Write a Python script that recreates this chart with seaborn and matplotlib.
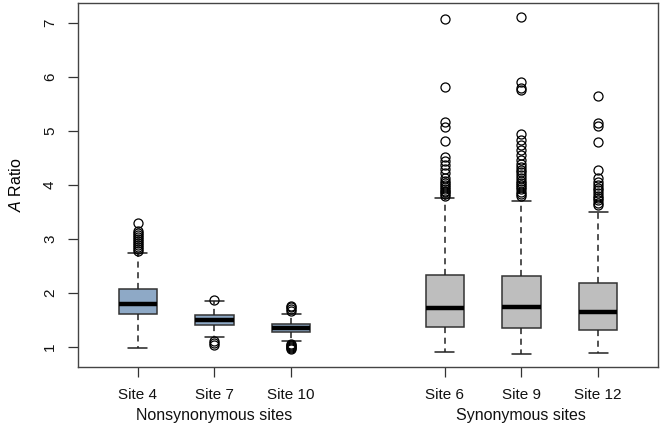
import numpy as np
import pandas as pd
import matplotlib.pyplot as plt
import seaborn as sns

# sites and where they sit on the axis (gap between the two groups)
sites = ['Site 4', 'Site 7', 'Site 10', 'Site 6', 'Site 9', 'Site 12']
groups = ['Nonsynonymous sites'] * 3 + ['Synonymous sites'] * 3
slots = [1, 2, 3, 5, 6, 7]

# box summaries
whisker_lo = [0.98, 1.18, 1.10, 0.90, 0.86, 0.88]
q1 = [1.61, 1.40, 1.28, 1.37, 1.35, 1.32]
median = [1.80, 1.49, 1.35, 1.72, 1.73, 1.64]
q3 = [2.07, 1.58, 1.42, 2.33, 2.31, 2.19]
whisker_hi = [2.74, 1.84, 1.61, 3.76, 3.71, 3.49]

# outliers
outliers_hi = [
    [2.78, 2.81, 2.85, 2.88, 2.92, 2.96, 3.00, 3.03, 3.07, 3.10, 3.15, 3.29],
    [1.87],
    [1.67, 1.70, 1.73, 1.75],
    [3.80, 3.83, 3.86, 3.89, 3.93, 3.96, 3.99, 4.03, 4.08, 4.12, 4.22, 4.30,
     4.36, 4.44, 4.52, 4.82, 5.07, 5.16, 5.82, 7.08],
    [3.79, 3.83, 3.87, 3.92, 3.96, 4.00, 4.04, 4.08, 4.13, 4.18, 4.23, 4.28,
     4.33, 4.39, 4.46, 4.56, 4.65, 4.74, 4.84, 4.95, 5.75, 5.80, 5.90, 7.12],
    [3.62, 3.67, 3.72, 3.76, 3.80, 3.85, 3.90, 3.95, 4.00, 4.05, 4.12, 4.28,
     4.79, 5.10, 5.14, 5.65],
]
outliers_lo = [
    [],
    [1.04, 1.07, 1.10],
    [0.95, 0.98, 1.00, 1.02, 1.04, 1.06],
    [], [], [],
]

# build a sample per site whose quartiles land exactly on the read values
rows = []
for i in range(len(sites)):
    lo = sorted(outliers_lo[i]) + [whisker_lo[i]]
    hi = [whisker_hi[i]] + sorted(outliers_hi[i])
    m = max(len(lo), len(hi))
    vals = (lo + [q1[i]] * (m - len(lo))
            + [q1[i]] * m + [median[i]] * m
            + [q3[i]] * (m - len(hi) + 1) + hi)
    for v in vals:
        rows.append((slots[i], groups[i], v))
df = pd.DataFrame(rows, columns=['slot', 'group', 'ratio'])

sns.set_style('white')
plt.rcParams['font.family'] = ['Liberation Sans', 'DejaVu Sans']
plt.rcParams['mathtext.fontset'] = 'custom'
plt.rcParams['mathtext.rm'] = 'Liberation Sans'
plt.rcParams['mathtext.it'] = 'Liberation Sans:italic'
plt.rcParams['text.color'] = 'black'
plt.rcParams['axes.labelcolor'] = 'black'
plt.rcParams['xtick.color'] = 'black'
plt.rcParams['ytick.color'] = 'black'

fig = plt.figure(figsize=(6.6, 4.32), dpi=100)
ax = fig.add_axes([0.118, 0.151, 0.879, 0.842])

palette = {'Nonsynonymous sites': '#8EA9C6', 'Synonymous sites': '#BEBEBE'}
sns.boxplot(data=df, x='slot', y='ratio', hue='group', palette=palette,
            native_scale=True, dodge=False, width=0.5, legend=False,
            linecolor='#333333', linewidth=1.1, saturation=1, ax=ax,
            whiskerprops=dict(linestyle=(0, (4, 3)), color='#222222'),
            capprops=dict(color='#222222'),
            medianprops=dict(color='black', linewidth=3.2),
            flierprops=dict(marker='o', markerfacecolor='none',
                            markeredgecolor='black', markersize=6.5,
                            markeredgewidth=0.9))

ax.set_xlim(0.22, 7.78)
ax.set_ylim(0.63, 7.37)
ax.set_xticks(slots)
ax.set_xticklabels(sites, fontsize=11)
ax.set_yticks([1, 2, 3, 4, 5, 6, 7])
ax.set_yticklabels(['1', '2', '3', '4', '5', '6', '7'], fontsize=11,
                   rotation=90, va='center')
ax.tick_params(axis='both', direction='out', length=7, width=0.9,
               color='#333333', labelcolor='#111111', left=True, bottom=True,
               pad=8)
ax.set_xlabel('')
ax.set_ylabel(r'$\mathit{A}$ Ratio', fontsize=11.5, labelpad=14)

for s in ax.spines.values():
    s.set_visible(True)
    s.set_color('#444444')
    s.set_linewidth(1)

ax.annotate('Nonsynonymous sites', xy=(2, 0), xycoords=('data', 'axes fraction'),
            xytext=(0, -35), textcoords='offset points', ha='center',
            va='center', fontsize=11.5, color='#111111')
ax.annotate('Synonymous sites', xy=(6, 0), xycoords=('data', 'axes fraction'),
            xytext=(0, -35), textcoords='offset points', ha='center',
            va='center', fontsize=11.5, color='#111111')

fig.savefig('out.png', dpi=100)
